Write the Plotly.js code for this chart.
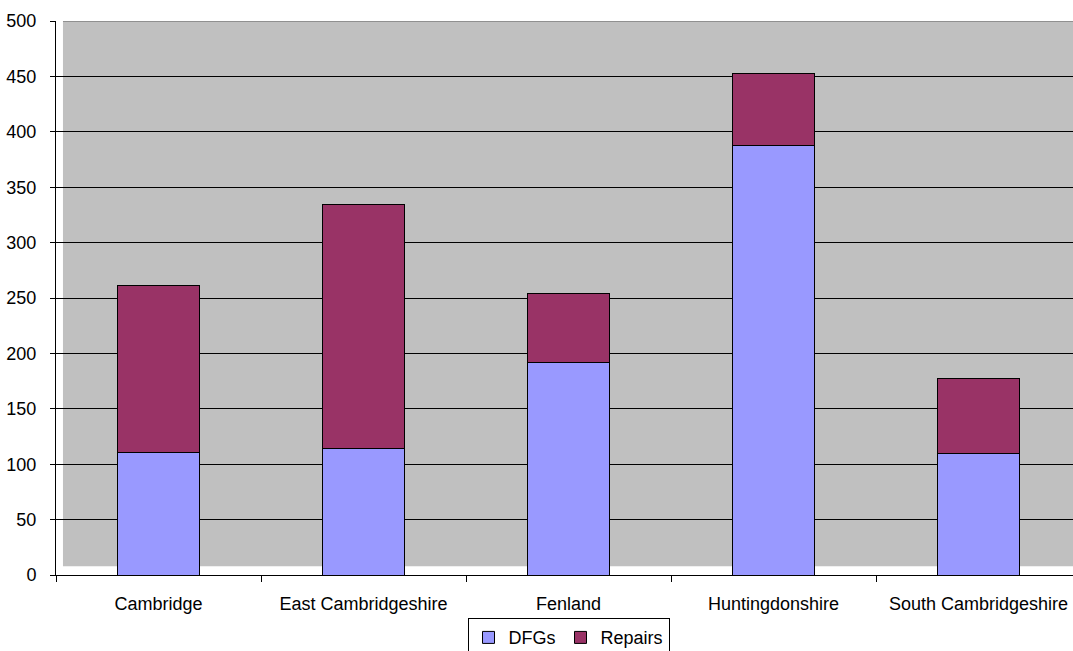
<!DOCTYPE html>
<html>
<head>
<meta charset="utf-8">
<script src="https://cdn.plot.ly/plotly-3.0.1.min.js"></script>
<style>
html,body{margin:0;padding:0;overflow:hidden;background:#fff;}
#chart{width:1090px;height:651px;}
</style>
</head>
<body>
<div id="chart"></div>
<script>
const categories = ["Cambridge", "East Cambridgeshire", "Fenland", "Huntingdonshire", "South Cambridgeshire"];
const dfgs = [111, 114, 192, 388, 110];
const repairs = [150, 220, 62, 65, 67];
const yTicks = [0, 50, 100, 150, 200, 250, 300, 350, 400, 450, 500];

const font = {family: "Liberation Sans, Arial, sans-serif", size: 18, color: "#000"};

const traces = [
  {type: "bar", name: "DFGs", x: categories, y: dfgs,
   marker: {color: "#9999FF", line: {color: "#000", width: 1}}, width: 0.4},
  {type: "bar", name: "Repairs", x: categories, y: repairs,
   marker: {color: "#993366", line: {color: "#000", width: 1}}, width: 0.4}
];

const layout = {
  width: 1090, height: 651,
  margin: {l: 56, r: 9, t: 21, b: 76, pad: 0, autoexpand: false},
  barmode: "stack",
  paper_bgcolor: "#fff",
  plot_bgcolor: "rgba(0,0,0,0)",
  font: font,
  showlegend: true,
  legend: {orientation: "h", x: 0.5, xanchor: "center", y: -0.078, yanchor: "top",
           bordercolor: "#000", borderwidth: 1, font: font, itemwidth: 30,
           traceorder: "normal"},
  xaxis: {type: "category", showline: true, linecolor: "#000", linewidth: 1,
          ticks: "outside", tickson: "boundaries", ticklen: 6, tickcolor: "#000",
          showgrid: false, zeroline: false, tickfont: font, ticklabelstandoff: 12,
          automargin: false},
  yaxis: {range: [0, 500], tickvals: yTicks, showline: true, linecolor: "#000", linewidth: 1,
          ticks: "outside", ticklen: 5, tickcolor: "#000",
          showgrid: true, gridcolor: "#000", gridwidth: 1, zeroline: false,
          tickfont: font, ticklabelstandoff: 10, automargin: false},
  shapes: [
    {type: "rect", xref: "paper", yref: "y", x0: 0.0068, x1: 1.01, y0: 8, y1: 509,
     fillcolor: "#C0C0C0", line: {width: 0}, layer: "below"},
    {type: "line", xref: "paper", yref: "y", x0: 0.0068, x1: 1.01, y0: 500, y1: 500,
     line: {color: "#808080", width: 1.5}, layer: "above"}
  ]
};

Plotly.newPlot("chart", traces, layout, {displayModeBar: false, staticPlot: true});
</script>
</body>
</html>
